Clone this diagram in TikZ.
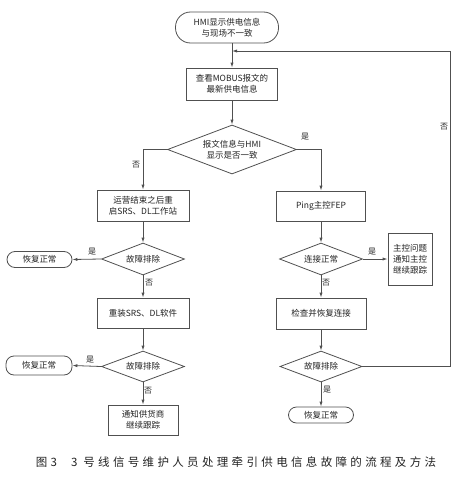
\documentclass[tikz,border=0pt]{standalone}
\usepackage{fontspec}
\setmainfont{Noto Sans CJK SC}
\usetikzlibrary{shapes.geometric,arrows.meta}
\definecolor{ln}{HTML}{505050}
\definecolor{tx}{HTML}{222222}
\tikzset{
  base/.style={draw=ln,line width=0.8pt,text=tx,font=\fontsize{8.5}{11}\selectfont,inner sep=0pt,align=center},
  boxn/.style={base,rectangle},
  term/.style={base,rectangle,rounded corners=8pt},
  dia/.style={base,diamond,aspect=2.6},
  arr/.style={draw=ln,line width=0.8pt,-{Latex[length=5pt,width=3.2pt]}},
  ln/.style={draw=ln,line width=0.8pt},
  lab/.style={text=tx,font=\fontsize{8}{10}\selectfont,inner sep=0pt}
}
\begin{document}
\begin{tikzpicture}[x=1pt,y=-1pt]
\useasboundingbox (0,0) rectangle (454,479);
% main column
\node[term,rounded corners=15pt,minimum width=103pt,minimum height=31pt] (start) at (227,27.5) {HMI显示供电信息\\与现场不一致};
\node[boxn,minimum width=91pt,minimum height=32pt] (b2) at (232,84) {查看MOBUS报文的\\最新供电信息};
\node[dia,minimum width=129pt,minimum height=49pt] (d1) at (232,149.5) {报文信息与HMI\\显示是否一致};
% left column
\node[boxn,minimum width=92pt,minimum height=31pt] (b3) at (143,205.5) {运营结束之后重\\启SRS、DL工作站};
\node[dia,minimum width=83pt,minimum height=32pt] (dl1) at (143,259) {故障排除};
\node[term,minimum width=65pt,minimum height=16pt] (ok1) at (39.5,259.5) {恢复正常};
\node[boxn,minimum width=92pt,minimum height=30pt] (b4) at (143,313) {重装SRS、DL软件};
\node[dia,minimum width=83pt,minimum height=31pt] (dl2) at (143,366.5) {故障排除};
\node[term,minimum width=66pt,minimum height=19pt] (ok2) at (39,365.5) {恢复正常};
\node[boxn,minimum width=70pt,minimum height=30pt] (b6) at (143,420) {通知供货商\\继续跟踪};
% right column
\node[boxn,minimum width=89pt,minimum height=30pt] (ping) at (321,206) {Ping主控FEP};
\node[dia,minimum width=83pt,minimum height=32pt] (dr1) at (321,259) {连接正常};
\node[boxn,minimum width=44pt,minimum height=52pt] (note) at (410,259) {主控问题\\通知主控\\继续跟踪};
\node[boxn,minimum width=90pt,minimum height=31pt] (b5) at (321,313.5) {检查并恢复连接};
\node[dia,minimum width=82pt,minimum height=31pt] (dr2) at (321,366.5) {故障排除};
\node[term,minimum width=65pt,minimum height=16pt] (ok3) at (321,415) {恢复正常};
% feedback coordinates
\coordinate (fb) at (232,51);
\coordinate (c1) at (450,366.5);
\coordinate (c2) at (450,51);
% connectors
\draw[arr] (start.south -| b2.north) -- (b2.north);
\draw[arr] (b2) -- (d1);
\draw[arr] (d1.west) -| (b3.north);
\draw[arr] (d1.east) -| (ping.north);
\draw[arr] (b3) -- (dl1);
\draw[arr] (dl1.west) -- (ok1.east);
\draw[arr] (dl1) -- (b4);
\draw[arr] (b4) -- (dl2);
\draw[arr] (dl2.west) -- (ok2.east);
\draw[arr] (dl2) -- (b6);
\draw[arr] (ping) -- (dr1);
\draw[arr] (dr1.east) -- (note.west);
\draw[arr] (dr1) -- (b5);
\draw[arr] (b5) -- (dr2);
\draw[arr] (dr2) -- (ok3);
\draw[arr] (dr2.east) -- (c1) -- (c2) -- (fb);
% labels
\node[lab] (l1) at (136,165) {否};
\node[lab] (l2) at (305,137) {是};
\node[lab] (l3) at (92,251.5) {是};
\node[lab] (l4) at (149,283) {否};
\node[lab] (l5) at (372,251.5) {是};
\node[lab] (l6) at (326,283) {否};
\node[lab] (l7) at (90,359.5) {是};
\node[lab] (l8) at (148,391) {否};
\node[lab] (l9) at (327,390) {是};
\node[lab] (l10) at (444,127) {否};
% caption
\node[text=tx,font=\fontsize{11.5}{13}\selectfont\addfontfeatures{LetterSpace=29},inner sep=0pt] (cap) at (236,462) {图3\hspace{14pt}3 号线信号维护人员处理牵引供电信息故障的流程及方法};
\end{tikzpicture}
\end{document}
